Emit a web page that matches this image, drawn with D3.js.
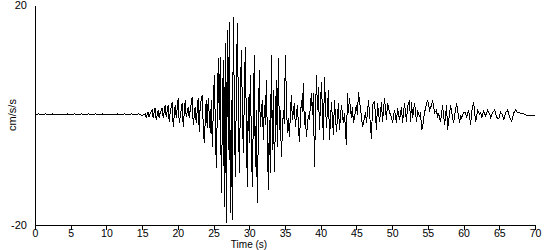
<!DOCTYPE html>
<html>
<head>
    <script src="https://d3js.org/d3.v7.min.js"></script>
    <style>
        body { margin: 0; background: #fff; }
        text { font-family: "Liberation Sans", Arial, sans-serif; font-size: 11px; fill: #000; }
        .axis path, .axis line { stroke: #000; stroke-width: 1px; shape-rendering: crispEdges; }
        .axis text { font-family: "Liberation Sans", Arial, sans-serif; font-size: 10.5px; }
        .trace { fill: none; stroke: #000; stroke-width: 1px; shape-rendering: crispEdges; }
    </style>
</head>
<body>
    <div id="chart"></div>

    <script>
        // Accelerogram, [time s, acceleration cm/s/s]
        const quiet = [
            [0, 0.0], [0.5, 0.2], [1, 0.0], [1.5, 0.2], [2, 0.0], [2.5, 0.2], [3, 0.0], [3.5, 0.2],
            [4, 0.0], [4.5, 0.2], [5, 0.0], [5.5, 0.2], [6, 0.0], [6.5, 0.2], [7, 0.0], [7.5, 0.2],
            [8, 0.0], [8.5, 0.2], [9, 0.0], [9.5, 0.2], [10, 0.0], [10.5, 0.2], [11, 0.0], [11.5, 0.2],
            [12, 0.0], [12.5, 0.2], [13, 0.0], [13.5, 0.2], [14, 0.0], [14.5, 0.2], [14.8, 0.0]
        ];

        const onset = [
            [15.14, 0.0], [15.42, 0.2], [15.56, -0.4], [15.84, 0.5], [15.98, -0.4], [16.12, 0.2],
            [16.40, 0.9], [16.54, -0.5], [16.82, 1.3], [16.96, -0.9], [17.24, 0.9], [17.38, -0.5],
            [17.52, 0.4], [17.81, 1.3], [17.95, -0.5], [18.23, 1.8], [18.37, -0.4], [18.65, 1.8],
            [18.79, -1.3], [18.93, 0.5], [19.21, 2.4], [19.35, -2.2], [19.63, 1.8], [19.77, -0.5],
            [20.05, 3.1], [20.19, -1.5], [20.47, 0.9], [20.61, 2.2], [20.75, -2.2], [21.03, 2.7],
            [21.17, -0.4], [21.45, 1.5], [21.59, -0.5], [21.73, 0.9], [22.01, 3.3], [22.15, -1.8],
            [22.43, 1.5], [22.57, -1.5], [22.85, 3.1], [22.99, -3.1], [23.13, 1.8], [23.41, 3.6],
            [23.55, -1.8]
        ];

        const strong = [
            [23.69, -5.1], [23.97, 2.7], [24.11, -2.4], [24.25, 3.1], [24.54, -3.3], [24.68, 2.7],
            [24.82, -5.8], [25.10, 7.3], [25.38, -9.6], [25.66, 10.4], [25.80, -0.9], [25.94, 10.5],
            [26.08, -14.2], [26.36, 10.0], [26.50, -16.7], [26.64, 13.1], [26.78, -19.6], [26.92, 15.5],
            [27.06, -6.4], [27.20, 16.9], [27.34, -17.8], [27.48, 2.7], [27.62, -19.1], [27.76, 17.8],
            [28.04, -11.3], [28.32, 16.7], [28.60, -10.5], [28.88, 11.8], [29.16, -6.9], [29.44, 12.4],
            [29.72, -13.1], [29.86, 3.3], [30.00, -5.1], [30.14, 7.3], [30.42, -13.1], [30.70, 10.9],
            [30.84, -9.5], [30.98, 0.9], [31.12, -16.0], [31.40, 8.2], [31.54, -2.2], [31.82, 2.7],
            [31.97, -4.5], [32.11, 1.8], [32.25, -1.8], [32.39, 6.4], [32.67, -13.6], [32.81, -0.9],
            [32.95, -10.5], [33.09, 10.9], [33.23, -6.4], [33.37, 4.5], [33.51, -10.4], [33.79, 6.4],
            [33.93, -5.8], [34.07, 10.4], [34.21, -2.7], [34.35, 0.9], [34.49, -7.6], [34.77, 0.9],
            [34.91, -1.6], [35.05, 10.9], [35.33, -3.3], [35.47, -0.5], [35.61, -4.0], [35.89, 3.6],
            [36.04, -0.9], [36.31, 2.2], [36.45, -2.2], [36.73, 1.8], [37.01, -4.9], [37.29, 2.7],
            [37.43, 0.5], [37.57, 5.8], [37.71, -1.8], [37.85, 0.5], [37.99, -4.0], [38.27, 0.0],
            [38.41, -0.9], [38.70, 4.0], [38.84, 0.0], [38.98, 4.0], [39.12, -9.5], [39.40, 7.3],
            [39.54, 0.9], [39.68, 5.1], [39.82, -2.7], [40.10, 6.0], [40.38, -4.5], [40.52, 6.9],
            [40.80, -2.4], [41.08, 4.5], [41.22, -4.5], [41.50, 2.4], [41.78, -3.6], [41.92, 2.7],
            [42.20, -3.1], [42.48, 2.2], [42.62, -2.7], [42.90, 1.8], [43.18, -1.5], [43.32, 0.4],
            [43.60, -5.5], [43.74, 4.0], [43.88, 0.4], [44.02, 3.1], [44.30, -0.5], [44.44, 1.5],
            [44.58, -1.5], [45.00, 1.8], [45.14, 0.0], [45.28, 4.2], [45.71, -0.4], [45.85, -2.2]
        ];

        const later = [
            [46.27, 0.5], [46.41, -1.5], [46.69, 2.7], [46.83, 0.4], [47.11, -4.4], [47.25, 1.8],
            [47.53, 2.4], [47.81, -2.7], [47.95, 2.2], [48.23, -1.3], [48.51, 2.4], [48.65, -1.3],
            [48.93, 3.1], [49.21, -0.9], [49.35, 2.2], [49.63, 0.5], [49.91, -0.4], [50.05, -1.5],
            [50.33, 0.9], [50.61, -1.5], [50.75, 1.3], [51.03, -0.9], [51.31, 1.5], [51.45, -1.5],
            [51.73, 2.2], [52.01, -1.3], [52.15, 1.5], [52.43, 2.7], [52.58, -1.3], [52.72, 2.4],
            [52.86, -0.5], [53.14, 2.2], [53.42, -1.3], [53.56, 0.9], [53.84, -0.4], [53.98, 0.5],
            [54.12, -2.7], [54.26, -2.2], [54.54, 0.5], [54.96, 2.7], [55.24, 0.9], [55.52, 1.8],
            [55.66, 2.7], [55.94, 0.4], [56.22, 0.9], [56.36, -0.5], [56.50, 0.4]
        ];

        const coda = [
            [56.78, -1.3], [57.06, 1.8], [57.34, -1.8], [57.62, 1.8], [57.76, -2.7], [58.18, 1.8],
            [58.60, -1.5], [59.02, 2.2], [59.44, -1.5], [59.58, 0.0], [59.73, -0.5], [60.01, 0.5],
            [60.29, 0.4], [60.43, -0.5], [60.71, 0.9], [60.99, -1.8], [61.13, 0.5], [61.41, 2.4],
            [61.69, -1.3], [61.97, 0.9], [62.25, 0.2], [62.39, 0.5], [62.53, -0.5], [62.81, 0.7],
            [63.09, -0.2], [63.37, 0.9], [63.65, 0.2], [63.79, -0.5], [64.07, 0.4], [64.35, 0.9],
            [64.63, -0.4], [64.91, -0.7], [65.19, 0.5], [65.47, 0.0], [65.61, -0.9], [65.89, 0.4],
            [66.17, 0.9], [66.45, -0.5], [66.73, -1.1], [67.02, 0.4], [67.30, 0.9], [67.58, 0.4],
            [67.86, 0.4], [68.14, 0.2], [68.42, 0.2], [68.70, 0.0], [69.40, 0.0], [70.0, 0.0]
        ];

        const xTicks = d3.range(0, 71, 5);
        const yLabels = [20, -20];

        const width = 550, height = 250;

        const svg = d3.select("#chart")
            .append("svg")
            .attr("width", width)
            .attr("height", height);

        const x = d3.scaleLinear().domain([0, 70]).range([35, 535]);
        const y = d3.scaleLinear().domain([-20, 20]).range([225, 5]);

        const series = quiet.concat(onset, strong, later, coda);

        const line = d3.line()
            .x(d => x(d[0]))
            .y(d => y(d[1]));

        svg.append("path")
            .datum(series)
            .attr("class", "trace")
            .attr("d", line);

        // x axis
        svg.append("g")
            .attr("class", "axis")
            .attr("transform", `translate(0,${y(-20)})`)
            .call(d3.axisBottom(x).tickValues(xTicks).tickSize(5).tickPadding(0)
                .tickSizeOuter(0).tickFormat(d3.format("d")))
            .call(g => g.selectAll("text").attr("fill", "#000"));

        // y axis: bare line
        svg.append("g")
            .attr("class", "axis")
            .attr("transform", `translate(${x(0)},0)`)
            .call(d3.axisLeft(y).tickValues([]).tickSizeOuter(0));

        svg.selectAll(".ylab")
            .data(yLabels)
            .join("text")
            .attr("class", "ylab")
            .attr("x", 27)
            .attr("y", d => y(d))
            .attr("dy", "0.35em")
            .attr("text-anchor", "end")
            .text(d => d);

        svg.append("text")
            .attr("x", 249)
            .attr("y", 247.5)
            .attr("text-anchor", "middle")
            .style("font-size", "10px")
            .text("Time (s)");

        svg.append("text")
            .attr("transform", "translate(16,115) rotate(-90)")
            .attr("text-anchor", "middle")
            .text("cm/s/s");
    </script>
</body>
</html>
